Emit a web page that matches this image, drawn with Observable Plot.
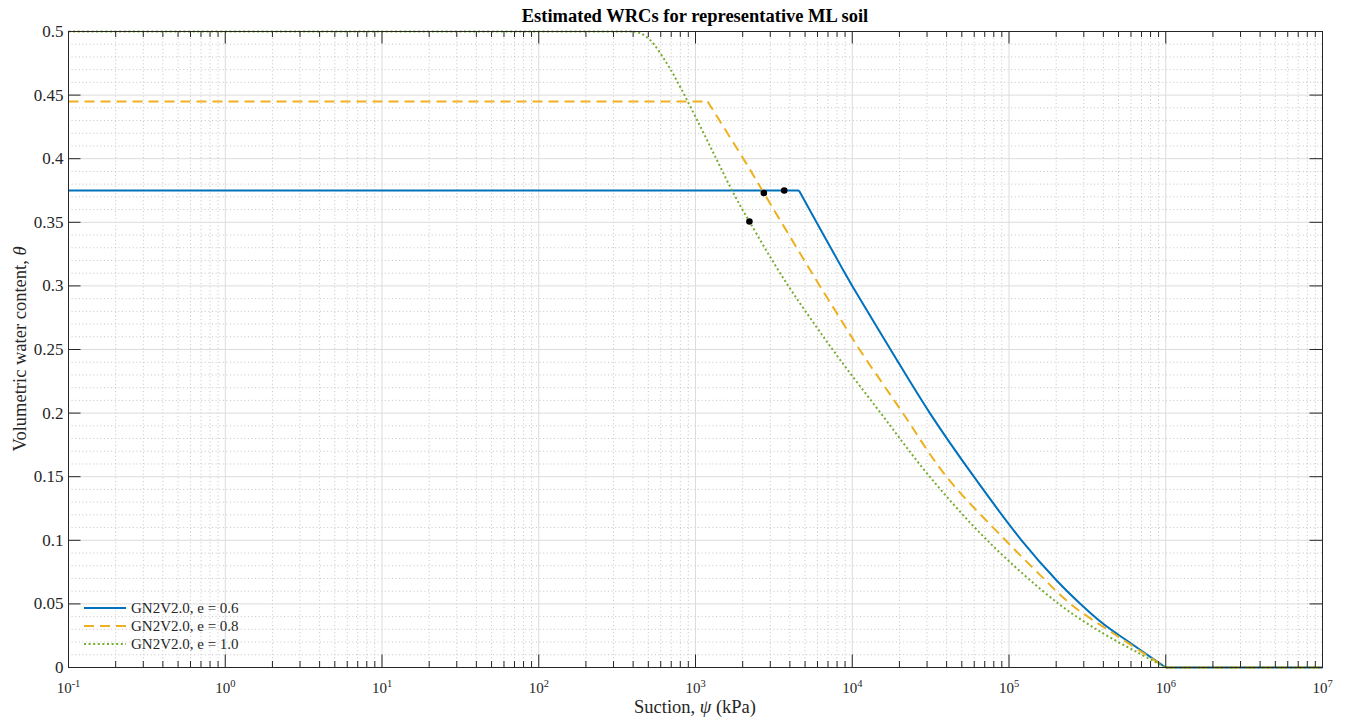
<!DOCTYPE html>
<html>
<head>
<meta charset="utf-8">
<script src="https://cdn.jsdelivr.net/npm/d3@7"></script>
<script src="https://cdn.jsdelivr.net/npm/@observablehq/plot@0.6"></script>
<style>
  body { margin: 0; background: #fff; font-family: "Liberation Serif", "Times New Roman", serif; }
  #wrap { position: relative; width: 1349px; height: 721px; overflow: hidden; background: #fff; }
  #title { position: absolute; z-index: 2; left: 68px; width: 1254px; top: 6px; text-align: center; font-weight: bold; font-size: 18.5px; line-height: 20px; color: #000; }
  #chart { position: absolute; z-index: 1; left: 0; top: 22px; }
  #chart svg { background: transparent !important; }
  #xlabel { position: absolute; left: 68px; width: 1254px; top: 697px; text-align: center; font-size: 18.5px; line-height: 20px; color: #262626; }
  #ylabel { position: absolute; left: 20px; top: 349px; transform: translate(-50%, -50%) rotate(-90deg); white-space: nowrap; font-size: 18.5px; line-height: 20px; color: #262626; }
  #legend { position: absolute; z-index: 3; left: 84px; top: 599px; font-size: 15px; color: #262626; }
  .row { display: flex; align-items: center; height: 18px; white-space: nowrap; }
  .row svg { margin-right: 3px; }
</style>
</head>
<body>
<div id="wrap">
  <div id="chart"></div>
  <div id="title">Estimated WRCs for representative ML soil</div>
  <div id="xlabel">Suction, <i>ψ</i> (kPa)</div>
  <div id="ylabel">Volumetric water content, <i>θ</i></div>
  <div id="legend"></div>
</div>
<script>
// ---- data ----
const seriesNames = ["GN2V2.0, e = 0.6", "GN2V2.0, e = 0.8", "GN2V2.0, e = 1.0"];
const seriesColors = ["#0072BD", "#EDB120", "#77AC30"];
const seriesDash = [null, "10,6", "2,2.6"];

const psiE06 = [0.1, 4571, 8790, 10000, 17540, 31260, 59700, 120200, 202800, 285800, 402700, 567500, 762100, 1e6, 1e7];
const thetaE06 = [0.375, 0.375, 0.312, 0.300, 0.25, 0.20, 0.15, 0.10, 0.068, 0.05, 0.034, 0.021, 0.010, 0, 0];

const psiE08 = [0.1, 1194, 2138, 2729, 4677, 6209, 8414, 11120, 16710, 21040, 39900, 95060, 151400, 246600, 466700, 1e6, 1e7];
const thetaE08 = [0.445, 0.445, 0.395, 0.373, 0.325, 0.300, 0.274, 0.25, 0.218, 0.20, 0.15, 0.10, 0.075, 0.05, 0.0265, 0, 0];

const psiE10 = [0.1, 403, 447, 516, 659, 802, 1076, 1374, 1754, 2208, 3656, 5970, 8414, 15520, 30760, 72610, 208000, 402700, 657700, 1e6, 1e7];
const thetaE10 = [0.5, 0.5, 0.4985, 0.493, 0.4746, 0.456, 0.425, 0.3986, 0.3724, 0.3506, 0.3055, 0.267, 0.2415, 0.1985, 0.151, 0.10, 0.05, 0.0265, 0.012, 0, 0];

const dotPsi = [3681, 2729, 2208];
const dotTheta = [0.375, 0.373, 0.3506];

// ---- ticks ----
const decades = [1e-1, 1e0, 1e1, 1e2, 1e3, 1e4, 1e5, 1e6, 1e7];
const decadeExponents = ["-1", "0", "1", "2", "3", "4", "5", "6", "7"];
const yTicks = [0, 0.05, 0.1, 0.15, 0.2, 0.25, 0.3, 0.35, 0.4, 0.45, 0.5];
const yTickLabels = ["0", "0.05", "0.1", "0.15", "0.2", "0.25", "0.3", "0.35", "0.4", "0.45", "0.5"];
const yMinor = [0.01,0.02,0.03,0.04,0.06,0.07,0.08,0.09,0.11,0.12,0.13,0.14,0.16,0.17,0.18,0.19,0.21,0.22,0.23,0.24,
                0.26,0.27,0.28,0.29,0.31,0.32,0.33,0.34,0.36,0.37,0.38,0.39,0.41,0.42,0.43,0.44,0.46,0.47,0.48,0.49];
const minorMultipliers = [2,3,4,5,6,7,8,9];
const xMinor = decades.slice(0, -1).flatMap(d => minorMultipliers.map(m => m * d));

// ---- build tables ----
const psiSets = [psiE06, psiE08, psiE10];
const thetaSets = [thetaE06, thetaE08, thetaE10];
const series = seriesNames.map((name, k) => psiSets[k].map((p, i) => ({psi: p, theta: thetaSets[k][i], name})));
const dots = dotPsi.map((p, i) => ({psi: p, theta: dotTheta[i]}));
const xLabelMap = new Map(decades.map((d, i) => [d, "10^" + decadeExponents[i]]));
const yLabelMap = new Map(yTicks.map((d, i) => [d, yTickLabels[i]]));

const W = 1349, H = 699, mL = 68, mR = 27, mT = 9, mB = 54;
const innerW = W - mL - mR, innerH = H - mT - mB;
const axisColor = "#262626";
const majorLen = 12.5, minorLen = 6;

// split each series: flat head (linear), smooth descending part, flat tail (linear)
const lineMarks = series.flatMap((rows, k) => {
  const t0 = rows[0].theta;
  const a = rows.findIndex(r => r.theta < t0) - 1;        // knee / start of descent
  const b = rows.findIndex(r => r.theta === 0);            // residual point
  const opts = {x: "psi", y: "theta", stroke: seriesColors[k], strokeWidth: 2,
    strokeDasharray: seriesDash[k] || undefined, strokeLinecap: "butt", strokeLinejoin: "round"};
  return [
    Plot.line(rows.slice(0, a + 1), opts),
    Plot.line(rows.slice(a, b + 1), {...opts, curve: "catmull-rom"}),
    Plot.line(rows.slice(b), opts)
  ];
});

const chart = Plot.plot({
  width: W, height: H,
  marginLeft: mL, marginRight: mR, marginTop: mT, marginBottom: mB,
  style: {fontFamily: '"Liberation Serif", "Times New Roman", serif', background: "transparent", color: axisColor},
  x: {type: "log", domain: [0.1, 1e7]},
  y: {domain: [0, 0.5]},
  marks: [
    // minor grid (dotted)
    Plot.ruleX(xMinor, {stroke: "#c4c4c4", strokeDasharray: "1,2.6", strokeWidth: 1}),
    Plot.ruleY(yMinor, {stroke: "#c4c4c4", strokeDasharray: "1,2.6", strokeWidth: 1}),
    // major grid
    Plot.ruleX(decades, {stroke: "#dcdcdc", strokeWidth: 1}),
    Plot.ruleY(yTicks, {stroke: "#dcdcdc", strokeWidth: 1}),
    // data
    ...lineMarks,
    Plot.dot(dots, {x: "psi", y: "theta", r: 3.3, fill: "#000", stroke: "none"}),
    // box
    Plot.frame({stroke: axisColor, strokeWidth: 1}),
    // inward ticks: x bottom/top
    Plot.ruleX(decades, {stroke: axisColor, insetTop: innerH - majorLen}),
    Plot.ruleX(decades, {stroke: axisColor, insetBottom: innerH - majorLen}),
    Plot.ruleX(xMinor, {stroke: axisColor, insetTop: innerH - minorLen}),
    Plot.ruleX(xMinor, {stroke: axisColor, insetBottom: innerH - minorLen}),
    // inward ticks: y left/right
    Plot.ruleY(yTicks, {stroke: axisColor, insetRight: innerW - majorLen}),
    Plot.ruleY(yTicks, {stroke: axisColor, insetLeft: innerW - majorLen}),
    // axes labels
    Plot.axisX(decades, {tickSize: 0, tickPadding: 15, fontSize: 15, label: null, tickFormat: d => xLabelMap.get(d) ?? ""}),
    Plot.axisY(yTicks, {tickSize: 0, tickPadding: 5, fontSize: 17, label: null, tickFormat: d => yLabelMap.get(d) ?? ""})
  ]
});

// superscript exponents on the x tick labels
chart.querySelectorAll('[aria-label="x-axis tick label"] text').forEach(t => {
  const parts = t.textContent.split("^");
  if (parts.length !== 2) return;
  t.textContent = parts[0];
  const ts = document.createElementNS("http://www.w3.org/2000/svg", "tspan");
  ts.setAttribute("dy", "-6");
  ts.setAttribute("font-size", "10.5");
  ts.textContent = parts[1];
  t.appendChild(ts);
});

document.getElementById("chart").appendChild(chart);

// legend
const legend = document.getElementById("legend");
seriesNames.forEach((name, k) => {
  const row = document.createElement("div");
  row.className = "row";
  row.innerHTML = `<svg width="44" height="6"><line x1="0" x2="42" y1="3" y2="3" stroke="${seriesColors[k]}" stroke-width="2" ${seriesDash[k] ? `stroke-dasharray="${seriesDash[k]}"` : ""}/></svg><span>${name}</span>`;
  legend.appendChild(row);
});
</script>
</body>
</html>
